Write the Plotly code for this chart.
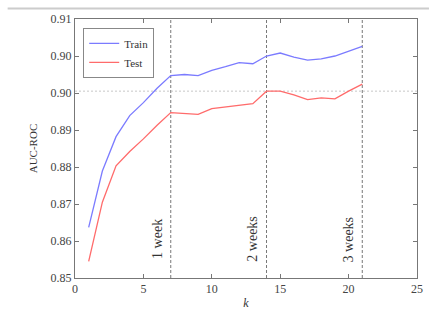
import plotly.graph_objects as go

k = list(range(1, 22))
train = [0.8637, 0.8789, 0.8882, 0.8939, 0.8974, 0.9013, 0.9047, 0.9050, 0.9047, 0.9061,
         0.9071, 0.9082, 0.9079, 0.9100, 0.9108, 0.9097, 0.9089, 0.9092, 0.9100, 0.9113, 0.9126]
test = [0.8545, 0.8705, 0.8803, 0.8842, 0.8876, 0.8913, 0.8947, 0.8945, 0.8942, 0.8958,
        0.8963, 0.8968, 0.8971, 0.9005, 0.9005, 0.8995, 0.8982, 0.8987, 0.8984, 0.9005, 0.9024]

ytick_vals = [0.85, 0.86, 0.87, 0.88, 0.89, 0.90, 0.91, 0.92]
ytick_text = ["0.85", "0.86", "0.87", "0.88", "0.89", "0.90", "0.90", "0.91"]
xtick_vals = [0, 5, 10, 15, 20, 25]
week_k = [7, 14, 21]
week_labels = ["1 week", "2 weeks", "3 weeks"]
grid_y = 0.9005

FONT = "Liberation Serif, serif"

fig = go.Figure()
fig.add_trace(go.Scatter(x=k, y=train, mode="lines", name="Train",
                         line=dict(color="#7b7bff", width=1.3)))
fig.add_trace(go.Scatter(x=k, y=test, mode="lines", name="Test",
                         line=dict(color="#ff6b6b", width=1.3)))

for wk, lab in zip(week_k, week_labels):
    fig.add_vline(x=wk, line=dict(color="#777777", width=1, dash="3px,2px"), layer="below")
    fig.add_annotation(x=wk, xref="x", xshift=-14, y=0.8605, yref="y", text=lab,
                       textangle=-90, showarrow=False, xanchor="center", yanchor="middle",
                       font=dict(family=FONT, size=14, color="#333333"))

fig.add_hline(y=grid_y, line=dict(color="#c8c8c8", width=1, dash="2px,2px"), layer="below")

fig.add_shape(type="line", xref="paper", yref="paper", x0=-0.197, x1=1.035, y0=1.041, y1=1.041,
              line=dict(color="#cccccc", width=2))

axis_common = dict(showgrid=False, zeroline=False, showline=True, linecolor="#777777",
                   linewidth=1, mirror="ticks", ticks="inside", ticklen=4, tickcolor="#777777",
                   tickfont=dict(family=FONT, size=12, color="#444444"))

fig.update_xaxes(range=[0, 25], tickvals=xtick_vals, **axis_common,
                 title=dict(text="<i>k</i>", font=dict(family=FONT, size=12, color="#333333"),
                            standoff=3))
fig.update_yaxes(range=[0.85, 0.92], tickvals=ytick_vals, ticktext=ytick_text, **axis_common,
                 title=dict(text="AUC-ROC", font=dict(family=FONT, size=11, color="#333333"),
                            standoff=10))

fig.update_layout(
    width=435, height=320,
    margin=dict(l=75, r=14, t=17, b=36),
    plot_bgcolor="white", paper_bgcolor="white",
    font=dict(family=FONT, size=11, color="#333333"),
    legend=dict(x=0.024, y=0.966, xanchor="left", yanchor="top",
                bordercolor="#888888", borderwidth=1, bgcolor="white",
                font=dict(family=FONT, size=11, color="#333333"),
                itemwidth=30, tracegroupgap=0),
    showlegend=True,
)

fig.write_html("out.html", config={"displayModeBar": False},
               post_script="document.body.style.margin='0';document.body.style.overflow='hidden';")
